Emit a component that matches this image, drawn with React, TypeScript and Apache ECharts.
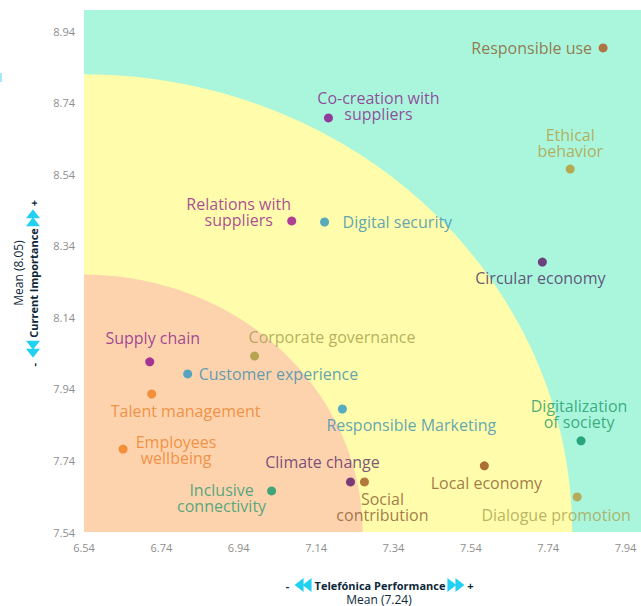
import React, { useEffect, useRef } from "react";
import * as echarts from "echarts";

// ---- data ----
const topics = [
  "Responsible use",
  "Co-creation with\nsuppliers",
  "Ethical\nbehavior",
  "Relations with\nsuppliers",
  "Digital security",
  "Circular economy",
  "Supply chain",
  "Corporate governance",
  "Customer experience",
  "Talent management",
  "Responsible Marketing",
  "Employees\nwellbeing",
  "Digitalization\nof society",
  "Local economy",
  "Climate change",
  "Social\ncontribution",
  "Inclusive\nconnectivity",
  "Dialogue promotion",
];
const performance = [
  7.882, 7.172, 7.797, 7.077, 7.162, 7.725, 6.71, 6.981, 6.808, 6.715, 7.208,
  6.641, 7.825, 7.575, 7.229, 7.265, 7.025, 7.815,
];
const importance = [
  8.894, 8.698, 8.555, 8.41, 8.407, 8.295, 8.016, 8.032, 7.982, 7.926, 7.884,
  7.772, 7.795, 7.725, 7.68, 7.68, 7.655, 7.638,
];
const meanPerformance = 7.24;
const meanImportance = 8.05;

const X_MIN = 6.54;
const X_MAX = 7.98;
const Y_MIN = 7.54;
const Y_MAX = 9.0;
const STEP = 0.2;

// zone radii (data units, from the lower-left corner)
const zoneRadiusX = [1.262, 0.72];
const zoneRadiusY = [1.28, 0.72];

// ---- styles ----
const zoneColors = ["#FFFCAB", "#FDD3AE"];
const backColor = "#AAF6DC";
const dotColors = [
  "#B0521C", "#8C0C8C", "#B8952F", "#9A1090", "#2C95BE", "#581466",
  "#8C0C8C", "#A39A3C", "#2C98C4", "#F07E1C", "#2C98C4", "#F07E1C",
  "#0A8E68", "#974C18", "#581466", "#A0581E", "#12986C", "#B89A3A",
];
const textColors = [
  "#8C5A2E", "#8A1C8A", "#B49C3C", "#961A8E", "#3690B2", "#4A2C5C",
  "#8A1C8A", "#A39C48", "#3A8CAE", "#EE8028", "#3A90B4", "#EE8028",
  "#1C996A", "#8A5A2C", "#5A2C6E", "#8C5A30", "#2A9A6E", "#A9A24E",
];
const labelAlign = [
  "right", "center", "center", "center", "left", "center", "center", "left",
  "left", "left", "left", "center", "center", "center", "center", "center",
  "center", "center",
];
const labelDx = [-11, 50, 0, -53, 18, -2, 3, -6, 11, -41, -16, 53, -2, 2, -28, 18, -50, -21];
const labelDy = [0, -12, -26, -9, 0, 16, -24, -19, 0, 17, 16, 1, -27, 17, -20, 25, 7, 18];

const NAVY = "#0B2739";
const CYAN = "#22D0F2";
const FONT = '"Open Sans", "Noto Sans", sans-serif';

function measure(text: string, font: string): number {
  const ctx = document.createElement("canvas").getContext("2d");
  if (!ctx) return text.length * 6;
  ctx.font = font;
  return ctx.measureText(text).width;
}

function arrowPair(x0: number, dir: number) {
  const h = 7;
  const w = 9;
  const tri = (tip: number) =>
    ({
      type: "polygon",
      shape: {
        points: [
          [tip, 0],
          [tip - dir * w, -h],
          [tip - dir * w, h],
        ],
      },
      style: { fill: CYAN },
    }) as any;
  return [tri(x0), tri(x0 - dir * 8)];
}

function titleGroup(title: string, mean: string, meanOffsetX: number, meanOffsetY: number) {
  const boldFont = `bold 11px ${FONT}`;
  const w = measure(title, boldFont);
  const half = w / 2;
  const leftTip = -half - 3 - 17;
  const rightTip = half + 2 + 17;
  return [
    {
      type: "text",
      x: 0,
      y: 0,
      style: {
        text: title,
        fontFamily: FONT,
        fontWeight: "bold",
        fontSize: 11,
        fill: NAVY,
        align: "center",
        verticalAlign: "middle",
      },
    },
    ...arrowPair(leftTip, -1),
    ...arrowPair(rightTip, 1),
    {
      type: "text",
      x: leftTip - 7,
      y: 0,
      style: { text: "-", fontFamily: FONT, fontSize: 11, fontWeight: "bold", fill: NAVY, align: "center", verticalAlign: "middle" },
    },
    {
      type: "text",
      x: rightTip + 6,
      y: 0,
      style: { text: "+", fontFamily: FONT, fontSize: 11, fontWeight: "bold", fill: NAVY, align: "center", verticalAlign: "middle" },
    },
    {
      type: "text",
      x: meanOffsetX,
      y: meanOffsetY,
      style: { text: mean, fontFamily: FONT, fontSize: 12, fill: NAVY, align: "center", verticalAlign: "middle" },
    },
  ];
}

export default function App() {
  const ref = useRef<HTMLDivElement>(null);

  useEffect(() => {
    if (!ref.current) return;
    const chart = echarts.init(ref.current, undefined, { renderer: "svg" });

    const points = topics.map((name, i) => ({
      name,
      value: [performance[i], importance[i]],
      itemStyle: { color: dotColors[i] },
      label: {
        show: true,
        position: "inside",
        formatter: name,
        color: textColors[i],
        align: labelAlign[i],
        verticalAlign: "middle",
        fontFamily: FONT,
        fontSize: 16,
        lineHeight: 16,
      },
    }));

    const tickFmt = (v: number) => v.toFixed(2);

    const option: any = {
      animation: false,
      grid: {
        left: 84,
        right: 0,
        top: 10,
        bottom: 74,
        show: true,
        backgroundColor: backColor,
        borderWidth: 0,
      },
      xAxis: {
        type: "value",
        min: X_MIN,
        max: X_MAX,
        interval: STEP,
        axisLine: { show: false },
        axisTick: { show: false },
        splitLine: { show: false },
        axisLabel: {
          showMaxLabel: false,
          formatter: tickFmt,
          color: "#8E8E8E",
          fontFamily: FONT,
          fontSize: 11,
          margin: 10,
        },
      },
      yAxis: {
        type: "value",
        min: Y_MIN,
        max: Y_MAX,
        interval: STEP,
        axisLine: { show: false },
        axisTick: { show: false },
        splitLine: { show: false },
        axisLabel: {
          showMaxLabel: false,
          formatter: tickFmt,
          color: "#8E8E8E",
          fontFamily: FONT,
          fontSize: 11,
          margin: 9,
        },
      },
      series: [
        {
          type: "custom",
          silent: true,
          clip: true,
          z: 1,
          data: zoneColors.map(() => [X_MIN, Y_MIN]),
          renderItem: (params: any, api: any) => {
            const i = params.dataIndex;
            const rx = zoneRadiusX[i];
            const ry = zoneRadiusY[i];
            const pts: number[][] = [api.coord([X_MIN, Y_MIN])];
            for (let k = 0; k <= 120; k++) {
              const t = (k / 120) * (Math.PI / 2);
              pts.push(api.coord([X_MIN + rx * Math.cos(t), Y_MIN + ry * Math.sin(t)]));
            }
            return {
              type: "polygon",
              shape: { points: pts },
              style: { fill: zoneColors[i] },
            };
          },
        },
        {
          type: "scatter",
          z: 3,
          symbolSize: 9,
          data: points,
          labelLayout: (params: any) => ({
            dx: labelDx[params.dataIndex],
            dy: labelDy[params.dataIndex],
            hideOverlap: false,
          }),
        },
      ],
      graphic: [
        {
          type: "rect",
          shape: { x: 0, y: 73, width: 2, height: 9 },
          style: { fill: "#A6E9F8" },
        },
        {
          type: "group",
          x: 380,
          y: 585,
          children: titleGroup("Telefónica Performance", `Mean (${meanPerformance.toFixed(2)})`, -1, 14),
        },
        {
          type: "group",
          x: 33,
          y: 283,
          rotation: Math.PI / 2,
          children: titleGroup("Current Importance", `Mean (${meanImportance.toFixed(2)})`, 10, -15),
        },
      ],
    };

    chart.setOption(option);
    return () => chart.dispose();
  }, []);

  return <div ref={ref} style={{ width: 641, height: 606, position: "absolute", left: 0, top: 0 }} />;
}
